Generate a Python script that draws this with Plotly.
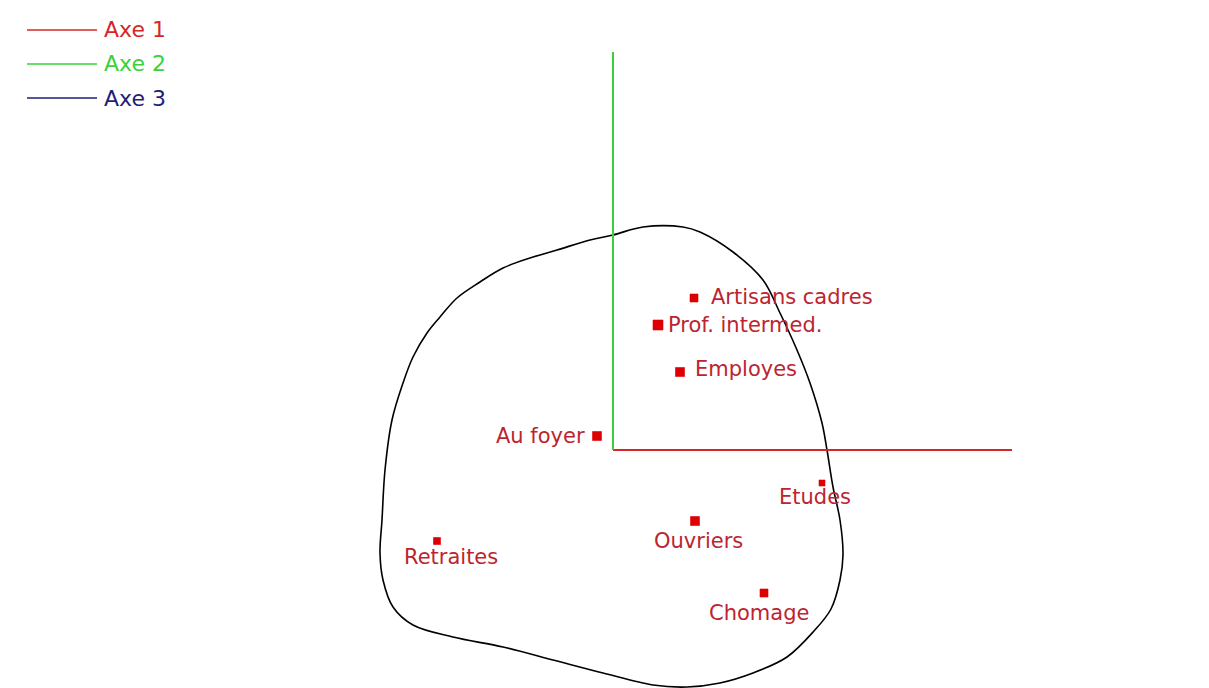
import plotly.graph_objects as go

# --- data -------------------------------------------------------------
categories = ["Artisans cadres", "Prof. intermed.", "Employes", "Au foyer",
              "Etudes", "Ouvriers", "Retraites", "Chomage"]
dim1 = [0.81, 0.45, 0.67, -0.16, 2.09, 0.82, -1.76, 1.51]
dim2 = [1.52, 1.25, 0.78, 0.14, -0.33, -0.71, -0.91, -1.43]
quality = [8, 10, 9, 9, 6, 9, 7, 8]

axis_names = ["Axe 1", "Axe 2", "Axe 3"]
axis_end_x = [3.99, 0.0, 0.0]
axis_end_y = [0.0, 3.98, 0.0]
axis_colors = ["#d42828", "#3ad23a", "#1e1e78"]

curve_x = [0.00, 0.30, 0.70, 0.87, 1.20, 1.50, 1.67, 1.84, 1.97, 2.09,
           2.14, 2.20, 2.27, 2.30, 2.27, 2.18, 2.01, 1.74, 1.40, 1.07,
           0.74, 0.40, -0.10, -0.60, -1.10, -1.60, -2.00, -2.20, -2.30, -2.33,
           -2.31, -2.28, -2.21, -2.10, -2.00, -1.86, -1.73, -1.56, -1.33, -1.10,
           -0.83, -0.56, -0.23, 0.00]
curve_y = [2.15, 2.23, 2.23, 2.18, 1.98, 1.70, 1.37, 1.00, 0.67, 0.27,
           0.00, -0.37, -0.70, -1.05, -1.30, -1.59, -1.81, -2.07, -2.23, -2.33,
           -2.37, -2.35, -2.23, -2.10, -1.97, -1.87, -1.75, -1.57, -1.30, -1.03,
           -0.70, -0.20, 0.30, 0.67, 0.93, 1.17, 1.33, 1.52, 1.68, 1.82,
           1.92, 2.00, 2.10, 2.15]

# --- label placement (pixels, style only) -----------------------------
label_anchor = ["left", "left", "left", "right", "center", "center", "center", "center"]
label_dx = [15, 8, 13, -10, -7, 3, 14, -5]
label_dy = [1, 0, 3, 0, -14, -20, -16, -20]

W, H = 1209, 688
LABEL_COLOR = "#bc2530"
FONT = "DejaVu Sans"

fig = go.Figure()

# enclosing curve
fig.add_trace(go.Scatter(x=curve_x, y=curve_y, mode="lines",
                         line=dict(color="black", width=1.6, shape="spline", smoothing=1.0),
                         hoverinfo="skip", showlegend=False))

# axes
for name, ex, ey, col in zip(axis_names, axis_end_x, axis_end_y, axis_colors):
    fig.add_trace(go.Scatter(x=[0, ex], y=[0, ey], mode="lines", name=name,
                             line=dict(color=col, width=2), showlegend=False))

# points
fig.add_trace(go.Scatter(x=dim1, y=dim2, mode="markers", text=categories,
                         marker=dict(symbol="square", size=quality, color="#dd0000",
                                     opacity=1, line=dict(width=0.6, color="#dd0000")),
                         showlegend=False, hovertemplate="%{text}<extra></extra>"))

annotations = []
for cat, x, y, anc, dx, dy in zip(categories, dim1, dim2, label_anchor, label_dx, label_dy):
    annotations.append(dict(x=x, y=y, xref="x", yref="y", text=cat, showarrow=False,
                            xanchor=anc, yanchor="middle", xshift=dx, yshift=dy,
                            font=dict(family=FONT, size=21, color=LABEL_COLOR)))

# legend drawn at top-left
shapes = []
leg_y_px = [30, 64, 98]
for name, col, ypx in zip(axis_names, axis_colors, leg_y_px):
    yp = 1 - ypx / H
    shapes.append(dict(type="line", xref="paper", yref="paper",
                       x0=27 / W, x1=97 / W, y0=yp, y1=yp,
                       line=dict(color=col, width=1.6)))
    annotations.append(dict(x=102 / W, y=yp, xref="paper", yref="paper", text=name,
                            showarrow=False, xanchor="left", yanchor="middle",
                            font=dict(family=FONT, size=22, color=col)))

fig.update_layout(
    width=W, height=H,
    margin=dict(l=0, r=0, t=0, b=0),
    paper_bgcolor="white", plot_bgcolor="white",
    xaxis=dict(range=[-6.13, 5.96], visible=False, fixedrange=True),
    yaxis=dict(range=[-2.38, 4.50], visible=False, fixedrange=True),
    annotations=annotations, shapes=shapes,
    showlegend=False,
)

fig.write_html("out.html", config={"displayModeBar": False},
               post_script="document.body.style.margin='0px';")
